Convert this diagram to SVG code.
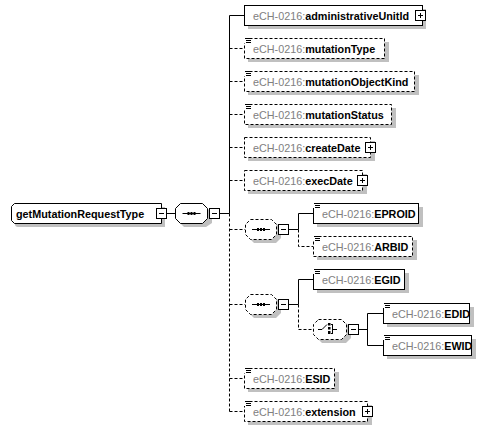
<svg xmlns="http://www.w3.org/2000/svg" xmlns:xlink="http://www.w3.org/1999/xlink" width="492" height="431" viewBox="0 0 492 431">
<style>
.sh{fill:#c0c0c0;stroke:none}
.bx{fill:#fff;stroke:#000;stroke-width:1}
.d{stroke-dasharray:3 2}
.ln{fill:none;stroke:#000;stroke-width:1}
text{font-family:"Liberation Sans",Arial,sans-serif;font-size:10.8px}
.ns{fill:#808080}
.nm{fill:#000;font-weight:bold}
</style>
<defs>
<g id="doc"><rect x="-1" y="-1" width="8" height="6" fill="#fff"/><path d="M1,0.5h6M2,2.5h5M2,4.5h5" stroke="#000" stroke-width="1"/></g>
<g id="minus"><rect x="0.5" y="0.5" width="10" height="10" fill="#fff" stroke="#000"/><path d="M3,5.5h5" stroke="#000"/></g>
<g id="plus"><rect x="0.5" y="0.5" width="10" height="10" fill="#fff" stroke="#000"/><path d="M3,5.5h5M5.5,3v5" stroke="#000"/></g>
<g id="seqsym"><path d="M-9,0.5h18" stroke="#000"/><rect x="-4" y="-1" width="2" height="3" fill="#000"/><rect x="-1" y="-1" width="2" height="3" fill="#000"/><rect x="2" y="-1" width="2" height="3" fill="#000"/></g>
</defs>

<g id="connectors">
<path class="ln" d="M166,213.5H175M220,213.5H229.5M229.5,15.5V213.5M229.5,15.5H244"/>
<path class="ln d" d="M229.5,213.5V411.5M229.5,48.5H244M229.5,81.5H244M229.5,114.5H244M229.5,147.5H244M229.5,180.5H244M229.5,229.5H245M229.5,304.5H245M229.5,378.5H244M229.5,411.5H244"/>
<path class="ln" d="M289,229.5H298.5M298.5,213.5V229.5M298.5,213.5H313"/>
<path class="ln d" d="M298.5,229.5V246.5H313"/>
<path class="ln" d="M289,304.5H298.5M298.5,279.5V304.5M298.5,279.5H313"/>
<path class="ln d" d="M298.5,304.5V329.5H313"/>
<path class="ln" d="M359,329.5H367.5M367.5,313.5V345.5M367.5,313.5H383M367.5,345.5H383"/>
</g>

<g id="root">
<path class="sh" d="M18,207H165V227H18Q15,227 15,224V210Q15,207 18,207Z"/>
<path class="bx" d="M14.5,203.5H161.5V223.5H14.5L11.5,220.5V206.5Z"/>
<text x="16" y="218" class="nm">getMutationRequestType</text>
<use xlink:href="#minus" x="156" y="208"/>
</g>

<g id="seq1">
<path class="sh" d="M184,207H206L212,213V223L206,227H184L179,222V212Z"/>
<path class="bx" d="M180.5,203.5H202.5L207.5,208.5V218.5L202.5,223.5H180.5L175.5,218.5V208.5Z"/>
<use xlink:href="#seqsym" x="191.5" y="213"/>
<use xlink:href="#minus" x="209" y="208"/>
</g>

<g id="administrativeUnitId">
<rect class="sh" x="248" y="9" width="178" height="20"/>
<rect class="bx" x="244.5" y="5.5" width="178" height="20"/>
<text x="253" y="19.5"><tspan class="ns">eCH-0216:</tspan><tspan class="nm">administrativeUnitId</tspan></text>
<use xlink:href="#plus" x="415" y="10"/>
</g>

<g id="mutationType">
<rect class="sh" x="248" y="42" width="141" height="20"/>
<rect class="bx d" x="244.5" y="38.5" width="140" height="20"/>
<use xlink:href="#doc" x="244" y="38"/>
<text x="253" y="52.5"><tspan class="ns">eCH-0216:</tspan><tspan class="nm">mutationType</tspan></text>
</g>

<g id="mutationObjectKind">
<rect class="sh" x="248" y="75" width="171" height="20"/>
<rect class="bx d" x="244.5" y="71.5" width="170" height="20"/>
<use xlink:href="#doc" x="244" y="71"/>
<text x="253" y="85.5"><tspan class="ns">eCH-0216:</tspan><tspan class="nm">mutationObjectKind</tspan></text>
</g>

<g id="mutationStatus">
<rect class="sh" x="248" y="108" width="148" height="20"/>
<rect class="bx d" x="244.5" y="104.5" width="147" height="20"/>
<use xlink:href="#doc" x="244" y="104"/>
<text x="253" y="118.5"><tspan class="ns">eCH-0216:</tspan><tspan class="nm">mutationStatus</tspan></text>
</g>

<g id="createDate">
<rect class="sh" x="248" y="141" width="127" height="20"/>
<rect class="bx d" x="244.5" y="137.5" width="126" height="20"/>
<text x="253" y="151.5"><tspan class="ns">eCH-0216:</tspan><tspan class="nm">createDate</tspan></text>
<use xlink:href="#plus" x="365" y="142"/>
</g>

<g id="execDate">
<rect class="sh" x="248" y="174" width="119" height="20"/>
<rect class="bx d" x="244.5" y="170.5" width="118" height="20"/>
<text x="253" y="184.5"><tspan class="ns">eCH-0216:</tspan><tspan class="nm">execDate</tspan></text>
<use xlink:href="#plus" x="357" y="175"/>
</g>

<g id="seq2">
<path class="sh" d="M254,223H276L281,228V238L276,243H254L249,238V228Z"/>
<path class="bx d" d="M250.5,219.5H271.5L276.5,224.5V234.5L271.5,239.5H250.5L245.5,234.5V224.5Z"/>
<use xlink:href="#seqsym" x="261" y="229"/>
<use xlink:href="#minus" x="278" y="224"/>
</g>

<g id="EPROID">
<rect class="sh" x="317" y="207" width="106" height="20"/>
<rect class="bx" x="313.5" y="203.5" width="105" height="20"/>
<use xlink:href="#doc" x="313" y="203"/>
<text x="322" y="217.5"><tspan class="ns">eCH-0216:</tspan><tspan class="nm">EPROID</tspan></text>
</g>

<g id="ARBID">
<rect class="sh" x="317" y="240" width="100" height="20"/>
<rect class="bx d" x="313.5" y="236.5" width="99" height="20"/>
<use xlink:href="#doc" x="313" y="236"/>
<text x="322" y="250.5"><tspan class="ns">eCH-0216:</tspan><tspan class="nm">ARBID</tspan></text>
</g>

<g id="seq3">
<path class="sh" d="M254,298H276L281,303V313L276,318H254L249,313V303Z"/>
<path class="bx d" d="M250.5,294.5H271.5L276.5,299.5V309.5L271.5,314.5H250.5L245.5,309.5V299.5Z"/>
<use xlink:href="#seqsym" x="261" y="304"/>
<use xlink:href="#minus" x="278" y="299"/>
</g>

<g id="EGID">
<rect class="sh" x="317" y="273" width="92" height="20"/>
<rect class="bx" x="313.5" y="269.5" width="91" height="20"/>
<use xlink:href="#doc" x="313" y="269"/>
<text x="322" y="283.5"><tspan class="ns">eCH-0216:</tspan><tspan class="nm">EGID</tspan></text>
</g>

<g id="choice">
<path class="sh" d="M322,323H346L351,328V338L346,343H322L317,338V328Z"/>
<path class="bx d" d="M318.5,319.5H341.5L346.5,324.5V334.5L341.5,339.5H318.5L313.5,334.5V324.5Z"/>
<path d="M318,329.5H322L327,324.5M332.5,324V334M331,324.5H332.5M331,333.5H332.5M332.5,329.5H337" fill="none" stroke="#000"/>
<rect x="328" y="323" width="2.5" height="2.5" fill="#000"/>
<rect x="328" y="327" width="2.5" height="2.5" fill="#000"/>
<rect x="328" y="331" width="2.5" height="3" fill="#000"/>
<use xlink:href="#minus" x="348" y="324"/>
</g>

<g id="EDID">
<rect class="sh" x="387" y="307" width="87" height="20"/>
<rect class="bx" x="383.5" y="303.5" width="86" height="20"/>
<use xlink:href="#doc" x="383" y="303"/>
<text x="392" y="317.5"><tspan class="ns">eCH-0216:</tspan><tspan class="nm">EDID</tspan></text>
</g>

<g id="EWID">
<rect class="sh" x="387" y="339" width="89" height="20"/>
<rect class="bx" x="383.5" y="335.5" width="88" height="20"/>
<use xlink:href="#doc" x="383" y="335"/>
<text x="392" y="349.5"><tspan class="ns">eCH-0216:</tspan><tspan class="nm">EWID</tspan></text>
</g>

<g id="ESID">
<rect class="sh" x="248" y="372" width="91" height="20"/>
<rect class="bx d" x="244.5" y="368.5" width="90" height="20"/>
<use xlink:href="#doc" x="244" y="368"/>
<text x="253" y="382.5"><tspan class="ns">eCH-0216:</tspan><tspan class="nm">ESID</tspan></text>
</g>

<g id="extension">
<rect class="sh" x="248" y="405" width="124" height="20"/>
<rect class="bx d" x="244.5" y="401.5" width="123" height="20"/>
<use xlink:href="#doc" x="244" y="401"/>
<text x="253" y="415.5"><tspan class="ns">eCH-0216:</tspan><tspan class="nm">extension</tspan></text>
<use xlink:href="#plus" x="362" y="406"/>
</g>
</svg>
